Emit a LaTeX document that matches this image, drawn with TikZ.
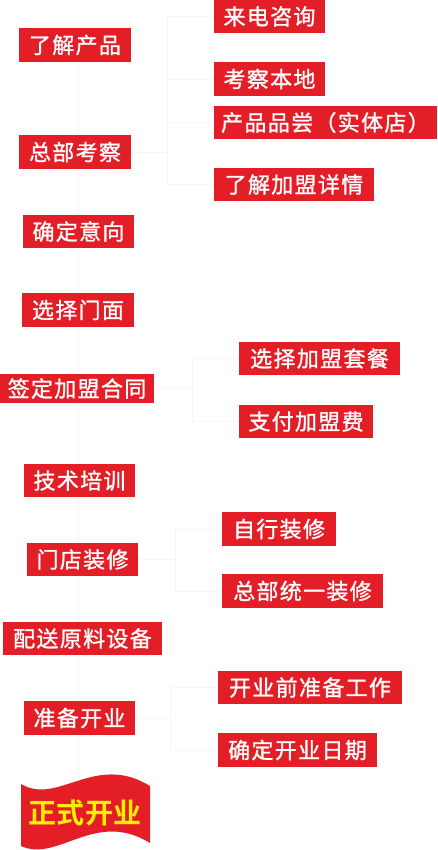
\documentclass[tikz,border=0pt]{standalone}
\usepackage{fontspec}
\newfontfamily\cjk[LetterSpace=6,FakeBold=1.2]{Noto Sans CJK SC}
\newfontfamily\cjkbold[LetterSpace=2]{Noto Sans CJK SC Bold}
\definecolor{boxred}{RGB}{228,30,38}
\definecolor{flagyellow}{RGB}{255,240,0}
\definecolor{faintline}{RGB}{246,246,246}
\tikzset{
  stepbox/.style={fill=boxred, draw=none, inner sep=0pt, text=white,
    font=\cjk\fontsize{22}{22}\selectfont, anchor=center},
  faint/.style={draw=faintline, line width=0.9pt},
}
\begin{document}
\begin{tikzpicture}[x=1pt,y=-1pt]
\useasboundingbox (0,0) rectangle (437,850);
% faint connectors (drawn first, behind everything)
\coordinate (spine) at (78,0);
\coordinate (b1) at (167,0);
\coordinate (b2) at (192,0);
\coordinate (b3) at (175,0);
\coordinate (b4) at (170,0);
% left column
\node[stepbox, minimum width=112, minimum height=34] (n1) at (75,45) {了解产品};
\node[stepbox, minimum width=112, minimum height=34] (n2) at (75,152) {总部考察};
\node[stepbox, minimum width=111, minimum height=33] (n3) at (78.5,231.5) {确定意向};
\node[stepbox, minimum width=112, minimum height=34] (n4) at (78,310) {选择门面};
\node[stepbox, minimum width=154, minimum height=29] (n5) at (77,388.5) {签定加盟合同};
\node[stepbox, minimum width=111, minimum height=33] (n6) at (79.5,480.5) {技术培训};
\node[stepbox, minimum width=111, minimum height=33] (n7) at (82.5,559.5) {门店装修};
\node[stepbox, minimum width=159, minimum height=33] (n8) at (82.5,638.5) {配送原料设备};
\node[stepbox, minimum width=111, minimum height=34] (n9) at (79.5,718) {准备开业};
% right column
\node[stepbox, minimum width=111, minimum height=33] (r1) at (269.5,16.5) {来电咨询};
\node[stepbox, minimum width=111, minimum height=34] (r2) at (269.5,79) {考察本地};
\node[stepbox, minimum width=223, minimum height=33] (r3) at (325.5,122.5) {产品品尝（实体店）};
\node[stepbox, minimum width=160, minimum height=33] (r4) at (294,184.5) {了解加盟详情};
\node[stepbox, minimum width=161, minimum height=33] (r5) at (319.5,358.5) {选择加盟套餐};
\node[stepbox, minimum width=134, minimum height=33] (r6) at (306,421.5) {支付加盟费};
\node[stepbox, minimum width=114, minimum height=34] (r7) at (279,529) {自行装修};
\node[stepbox, minimum width=161, minimum height=34] (r8) at (302.5,591) {总部统一装修};
\node[stepbox, minimum width=184, minimum height=33] (r9) at (310,687.5) {开业前准备工作};
\node[stepbox, minimum width=159, minimum height=34] (r10) at (297.5,750) {确定开业日期};
% flag
\fill[boxred] (21,784) .. controls (58,806) and (95,752) .. (150,786)
  -- (150,843) .. controls (95,809) and (58,863) .. (21,846) -- cycle;
\node[inner sep=0pt, text=flagyellow, font=\cjkbold\fontsize{28}{28}\selectfont] (flag) at (85,813) {正式开业};
\coordinate (flagtop) at (78,781);
\draw[faint] (n1.south -| spine) -- (n2.north -| spine);
\draw[faint] (n2.south -| spine) -- (n3.north -| spine);
\draw[faint] (n3.south -| spine) -- (n4.north -| spine);
\draw[faint] (n4.south -| spine) -- (n5.north -| spine);
\draw[faint] (n5.south -| spine) -- (n6.north -| spine);
\draw[faint] (n6.south -| spine) -- (n7.north -| spine);
\draw[faint] (n7.south -| spine) -- (n8.north -| spine);
\draw[faint] (n8.south -| spine) -- (n9.north -| spine);
\draw[faint] (n9.south -| spine) -- (flagtop);
% bracket 1
\draw[faint] (n2.east) -- (n2.east -| b1);
\draw[faint] (r1.west) -- (r1.west -| b1) -- (r4.west -| b1) -- (r4.west);
\draw[faint] (r2.west -| b1) -- (r2.west);
\draw[faint] (r3.west -| b1) -- (r3.west);
% bracket 2
\draw[faint] (n5.east) -- (n5.east -| b2);
\draw[faint] (r5.west) -- (r5.west -| b2) -- (r6.west -| b2) -- (r6.west);
% bracket 3
\draw[faint] (n7.east) -- (n7.east -| b3);
\draw[faint] (r7.west) -- (r7.west -| b3) -- (r8.west -| b3) -- (r8.west);
% bracket 4
\draw[faint] (n9.east) -- (n9.east -| b4);
\draw[faint] (r9.west) -- (r9.west -| b4) -- (r10.west -| b4) -- (r10.west);
\end{tikzpicture}
\end{document}
